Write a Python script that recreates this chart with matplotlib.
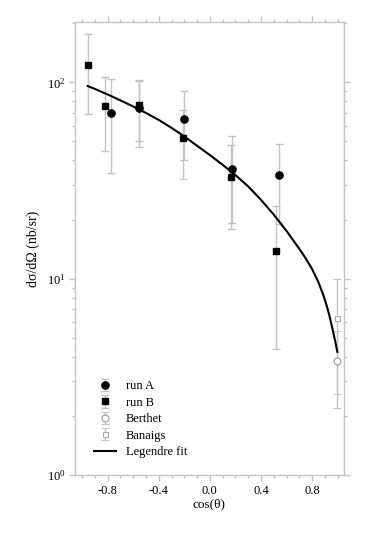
import numpy as np
import matplotlib
matplotlib.use("Agg")
import matplotlib.pyplot as plt
from matplotlib.ticker import MultipleLocator, FixedLocator, LogLocator, NullFormatter, FormatStrFormatter

plt.rcParams['font.family'] = ['Liberation Serif', 'DejaVu Serif']
plt.rcParams['mathtext.fontset'] = 'custom'
plt.rcParams['mathtext.rm'] = 'Liberation Serif'
plt.rcParams['axes.unicode_minus'] = False

# --- data ---
runA_x = [-0.774, -0.552, -0.201, 0.175, 0.539]
runA_y = [69.4, 74.0, 65.2, 36.1, 33.6]
runA_err = [35.0, 27.0, 25.0, 17.0, 14.7]

runB_x = [-0.956, -0.821, -0.554, -0.207, 0.169, 0.516]
runB_y = [123.0, 75.5, 76.4, 52.1, 33.0, 13.9]
runB_err = [54.0, 31.0, 26.0, 20.0, 15.0, 9.5]

berthet_x = [0.998]
berthet_y = [3.8]
berthet_err = [1.6]

banaigs_x = [0.998]
banaigs_y = [6.3]
banaigs_err = [3.7]

fit_x = [-0.956, -0.9, -0.8, -0.7, -0.6, -0.5, -0.4, -0.3, -0.2, -0.1, 0.0,
         0.1, 0.2, 0.3, 0.4, 0.5, 0.6, 0.7, 0.75, 0.8, 0.85, 0.89, 0.92,
         0.94, 0.96, 0.98, 0.998]
fit_y = [95.7, 92.5, 86.7, 80.9, 75.3, 69.8, 64.3, 58.6, 53.0, 47.5, 42.6,
         38.0, 33.7, 29.5, 25.2, 21.2, 17.5, 14.2, 12.7, 11.2, 9.58, 8.19, 7.09,
         6.32, 5.55, 4.84, 4.24]

xticks = [-0.8, -0.4, 0.0, 0.4, 0.8]

grey = '#c4c4c4'

fig = plt.figure(figsize=(3.82, 5.45), dpi=100)
ax = fig.add_axes([0.1963, 0.1284, 0.7042, 0.8306])

hA = ax.errorbar(runA_x, runA_y, yerr=runA_err, fmt='o', color='black', ms=5.2,
                 ecolor=grey, elinewidth=1, capsize=3.2, capthick=1, label='run A', zorder=3)
hB = ax.errorbar(runB_x, runB_y, yerr=runB_err, fmt='s', color='black', ms=3.8,
                 ecolor=grey, elinewidth=1, capsize=3.2, capthick=1, label='run B', zorder=3)
hBe = ax.errorbar(berthet_x, berthet_y, yerr=berthet_err, fmt='o', mfc='white', mec='#999999',
                  mew=0.8, ms=5, ecolor=grey, elinewidth=1, capsize=3.2, capthick=1,
                  label='Berthet', zorder=3)
hBa = ax.errorbar(banaigs_x, banaigs_y, yerr=banaigs_err, fmt='s', mfc='white', mec='#aaaaaa',
                  mew=0.8, ms=3.6, ecolor=grey, elinewidth=1, capsize=3.2, capthick=1,
                  label='Banaigs', zorder=3)
hF, = ax.plot(fit_x, fit_y, color='black', lw=1.5, label='Legendre fit', zorder=4,
              solid_joinstyle='round')

ax.set_yscale('log')
ax.set_xlim(-1.056, 1.05)
ax.set_ylim(1, 202)

ax.xaxis.set_major_locator(FixedLocator(xticks))
ax.xaxis.set_major_formatter(FormatStrFormatter('%.1f'))
ax.xaxis.set_minor_locator(MultipleLocator(0.1))
ax.yaxis.set_major_locator(LogLocator(base=10, numticks=10))
ax.yaxis.set_minor_locator(LogLocator(base=10, subs=np.arange(2, 10), numticks=20))
ax.yaxis.set_minor_formatter(NullFormatter())

for s in ax.spines.values():
    s.set_color(grey)
    s.set_linewidth(1)

ax.tick_params(which='both', direction='out', color=grey, top=True, right=True,
               labelsize=9, labelcolor='black', pad=3)
ax.tick_params(which='major', length=4, width=1)
ax.tick_params(which='minor', length=2, width=1)

ax.set_xlabel('cos(θ)', fontsize=9.5, labelpad=1)
ax.set_ylabel('dσ/dΩ (nb/sr)', fontsize=10, labelpad=4.5)

leg = ax.legend([hA, hB, hBe, hBa, hF], ['run A', 'run B', 'Berthet', 'Banaigs', 'Legendre fit'],
                loc='upper left', bbox_to_anchor=(0.07, 0.209), frameon=False,
                fontsize=9, handlelength=1.8, handletextpad=0.75, labelspacing=0.35,
                borderpad=0, borderaxespad=0)

fig.savefig('out.png', dpi=100)
